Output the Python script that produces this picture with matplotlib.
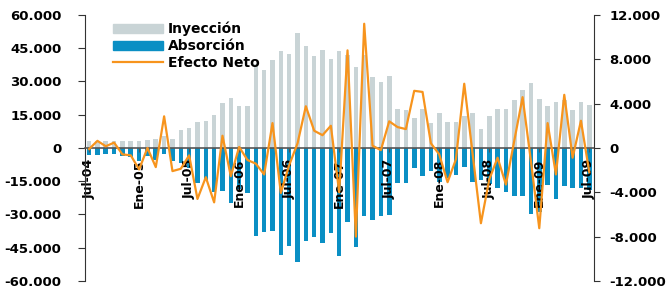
import matplotlib
matplotlib.use("Agg")
import matplotlib.pyplot as plt
from matplotlib.patches import Patch
from matplotlib.lines import Line2D
from matplotlib.ticker import FuncFormatter

# Monthly series, Jul-04 .. Jul-09 (61 months)
tick_labels = ["Jul-04", "Ene-05", "Jul-05", "Ene-06", "Jul-06", "Ene-07",
               "Jul-07", "Ene-08", "Jul-08", "Ene-09", "Jul-09"]

inyeccion = [3300, 3300, 3000, 3000, 3300, 3300, 3000, 3600, 3900, 5500,
             3900, 8000, 9000, 11500, 12000, 14800, 20200, 22500, 18700, 19000,
             38000, 35300, 39800, 43900, 42400, 51900, 46100, 41600, 44200, 40100,
             43500, 42000, 36300, 42000, 32000, 29800, 32300, 17500, 16900, 13700,
             17500, 11200, 15700, 11500, 11800, 14500, 15700, 8400, 14200, 17500,
             17500, 21600, 26200, 29500, 22000, 19000, 20500, 21500, 17000, 20500,
             19300]

absorcion = [-3300, -3000, -2700, -2600, -3600, -3900, -6000, -3600, -5500, -2700,
             -6000, -7000, -9000, -15700, -14500, -19700, -19400, -24700, -18500, -20200,
             -39800, -37800, -37400, -48100, -44100, -51400, -42000, -40300, -43000, -38300,
             -48800, -33500, -44500, -30800, -32300, -30500, -30300, -16000, -15700, -9000,
             -12700, -10500, -15500, -13500, -12400, -8600, -15400, -14500, -16400, -18000,
             -20000, -21700, -21700, -30000, -29000, -16900, -22900, -17200, -17900, -17900,
             -19000]

efecto_neto = [-100, 640, 150, 480, -580, -670, -1940, 0, -1730, 2850,
               -2090, -1880, -670, -4600, -2640, -4910, 1100, -2550, 90, -1090,
               -1420, -2390, 2240, -4060, -1550, 400, 3760, 1550, 1150, 2000,
               -4000, 8800, -8000, 11200, 200, -200, 2400, 1880, 1700, 5150,
               5050, 420, -580, -3090, -1030, 5790, -500, -6790, -2850, -880,
               -3300, 640, 4580, -1200, -7240, 2240, -2390, 4790, -880, 2450,
               -2200]

GRAY = "#c9d4d6"
BLUE = "#0a8fc4"
ORANGE = "#f7941d"

plt.rcParams['font.family'] = ['DejaVu Sans']
plt.rcParams['font.weight'] = 'bold'

x = list(range(len(inyeccion)))
fmt = FuncFormatter(lambda v, p: f"{v:,.0f}".replace(",", "."))

fig = plt.figure(figsize=(6.7, 2.86), dpi=100)
ax = fig.add_axes([0.127, 0.0175, 0.76, 0.9305])

ax.bar(x, inyeccion, width=0.55, color=GRAY)
ax.bar(x, absorcion, width=0.55, color=BLUE)
ax.set_xlim(-0.48, 60.6)
ax.set_ylim(-60000, 60000)
ax.set_yticks(range(-60000, 60001, 15000))
ax.yaxis.set_major_formatter(fmt)

# zero line acts as the category axis
ax.spines['bottom'].set_position(('data', 0))
ax.spines['bottom'].set_color('#555555')
ax.spines['bottom'].set_linewidth(1.2)
ax.spines['top'].set_visible(False)
ax.spines['right'].set_visible(False)
ax.spines['left'].set_color('#333333')
ax.set_xticks(range(0, 61, 6))
ax.set_xticklabels(tick_labels, rotation=90, fontsize=9, fontweight='bold')
ax.tick_params(axis='x', length=3, pad=5, color='#555555')
ax.tick_params(axis='y', length=5, pad=12, labelsize=9.5, color='#333333')

# net effect on the right axis
ax2 = ax.twinx()
ax2.plot(x, efecto_neto, color=ORANGE, lw=1.6, zorder=3)
ax2.set_ylim(-12000, 12000)
ax2.set_yticks(range(-12000, 12001, 4000))
ax2.yaxis.set_major_formatter(fmt)
for side in ['top', 'bottom', 'left']:
    ax2.spines[side].set_visible(False)
ax2.spines['right'].set_color('#333333')
ax2.tick_params(axis='y', length=4, pad=7, labelsize=9.5, color='#333333')

handles = [Patch(color=GRAY), Patch(color=BLUE), Line2D([], [], color=ORANGE, lw=1.6)]
ax2.legend(handles, ["Inyección", "Absorción", "Efecto Neto"],
           loc='upper left', bbox_to_anchor=(0.055, 0.975), frameon=False,
           fontsize=10, handlelength=3.6, handleheight=0.6, labelspacing=0.22,
           handletextpad=0.35, borderpad=0, borderaxespad=0)

fig.savefig("out.png", dpi=100)
